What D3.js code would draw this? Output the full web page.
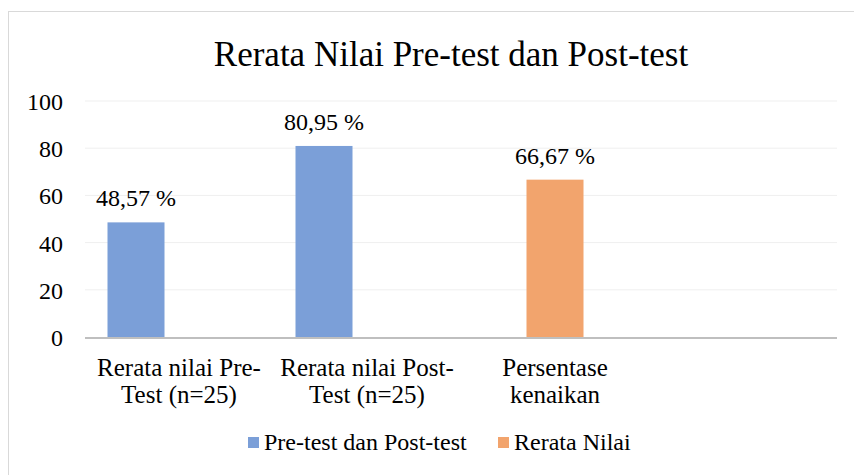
<!DOCTYPE html>
<html>
<head>
<meta charset="utf-8">
<script src="https://cdn.jsdelivr.net/npm/d3@7"></script>
<style>
  body { margin: 0; background: #fff; }
</style>
</head>
<body>
<div id="vis1"></div>
<script>
const FRAME_WIDTH = 854;
const FRAME_HEIGHT = 475;
const MARGINS = {left: 85, right: 17, top: 101, bottom: 138};
const FONT = "'Liberation Serif'";

// data
const categories = ["Rerata nilai Pre-Test (n=25)", "Rerata nilai Post-Test (n=25)", "Persentase kenaikan", ""];
const catLines = [["Rerata nilai Pre-", "Test (n=25)"], ["Rerata nilai Post-", "Test (n=25)"], ["Persentase", "kenaikan"], []];
const seriesNames = ["Pre-test dan Post-test", "Rerata Nilai"];
const prePostValues = [48.57, 80.95, null, null];
const rerataValues = [null, null, 66.67, null];
const yTicks = [0, 20, 40, 60, 80, 100];

const COLORS = ["#7b9fd8", "#f2a46d"];
const OFFSETS = [-43, 0];

const FRAME1 = d3.select("#vis1")
  .append("svg")
    .attr("width", FRAME_WIDTH)
    .attr("height", FRAME_HEIGHT);

// chart border
FRAME1.append("rect")
  .attr("x", 8.5).attr("y", 11.5)
  .attr("width", 860).attr("height", 480)
  .attr("fill", "none")
  .attr("stroke", "#d9d9d9")
  .attr("stroke-width", 1);

FRAME1.append("text")
  .attr("x", 451).attr("y", 66)
  .attr("text-anchor", "middle")
  .style("font-family", FONT)
  .style("font-size", "35px")
  .text("Rerata Nilai Pre-test dan Post-test");

const xScale = d3.scaleBand()
  .domain(categories.map((d, i) => i))
  .range([MARGINS.left, FRAME_WIDTH - MARGINS.right]);

const yScale = d3.scaleLinear()
  .domain([0, 100])
  .range([FRAME_HEIGHT - MARGINS.bottom, MARGINS.top]);

// gridlines
FRAME1.append("g")
  .selectAll("line")
  .data(yTicks.slice(1))
  .enter()
  .append("line")
    .attr("x1", MARGINS.left)
    .attr("x2", FRAME_WIDTH - MARGINS.right)
    .attr("y1", d => yScale(d))
    .attr("y2", d => yScale(d))
    .attr("stroke", "#efefef")
    .attr("stroke-width", 1);

// y axis labels
const yAxis = FRAME1.append("g")
  .attr("transform", "translate(" + (MARGINS.left - 22) + ",0)")
  .call(d3.axisLeft(yScale).tickValues(yTicks).tickSize(0).tickPadding(0));
yAxis.select(".domain").remove();
yAxis.selectAll("text")
  .attr("dy", "0.35em")
  .attr("fill", "#000")
  .style("font-family", FONT)
  .style("font-size", "24px");

const BAR_W = 57;
const seriesData = [prePostValues, rerataValues];

seriesData.forEach((vals, s) => {
  const pts = vals.map((v, i) => ({i: i, v: v})).filter(d => d.v !== null);
  const cx = d => xScale(d.i) + xScale.bandwidth() / 2 + OFFSETS[s];

  FRAME1.append("g")
    .selectAll("rect")
    .data(pts)
    .enter()
    .append("rect")
      .attr("x", d => cx(d) - BAR_W / 2)
      .attr("y", d => yScale(d.v))
      .attr("width", BAR_W)
      .attr("height", d => yScale(0) - yScale(d.v))
      .attr("fill", COLORS[s]);

  FRAME1.append("g")
    .selectAll("text")
    .data(pts)
    .enter()
    .append("text")
      .attr("x", cx)
      .attr("y", d => yScale(d.v) - 16)
      .attr("text-anchor", "middle")
      .style("font-family", FONT)
      .style("font-size", "24px")
      .text(d => d3.format(".2f")(d.v).replace(".", ",") + " %");
});

// baseline
FRAME1.append("line")
  .attr("x1", MARGINS.left)
  .attr("x2", FRAME_WIDTH - MARGINS.right)
  .attr("y1", yScale(0) + 1)
  .attr("y2", yScale(0) + 1)
  .attr("stroke", "#bfbfbf")
  .attr("stroke-width", 2);

// category labels
categories.forEach((c, i) => {
  const t = FRAME1.append("text")
    .attr("text-anchor", "middle")
    .style("font-family", FONT)
    .style("font-size", "25px");
  catLines[i].forEach((line, k) => {
    t.append("tspan")
      .attr("x", xScale(i) + xScale.bandwidth() / 2)
      .attr("y", 376 + k * 27)
      .text(line);
  });
});

// legend
const legendX = [248, 498];
seriesNames.forEach((name, s) => {
  FRAME1.append("rect")
    .attr("x", legendX[s]).attr("y", 437)
    .attr("width", 11).attr("height", 11)
    .attr("fill", COLORS[s]);
  FRAME1.append("text")
    .attr("x", legendX[s] + 16).attr("y", 450)
    .style("font-family", FONT)
    .style("font-size", "24px")
    .text(name);
});
</script>
</body>
</html>
